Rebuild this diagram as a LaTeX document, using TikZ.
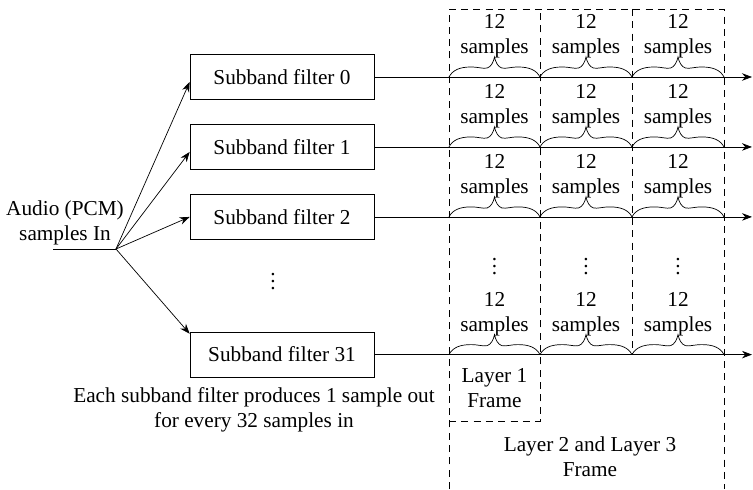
\documentclass[tikz,border=0pt]{standalone}
\usepackage{fontspec}
\setmainfont{Liberation Serif}
\usetikzlibrary{arrows.meta, positioning, calc}

\tikzset{
    samplebrace/.style={to path={
        .. controls ($(\tikztostart)!0.04!(\tikztotarget)+(0,0.14)$) and ($(\tikztostart)!0.12!(\tikztotarget)+(0,0.2)$)
        .. ($(\tikztostart)!0.24!(\tikztotarget)+(0,0.2)$)
        .. controls ($(\tikztostart)!0.33!(\tikztotarget)+(0,0.2)$) and ($(\tikztostart)!0.37!(\tikztotarget)+(0,0.16)$)
        .. ($(\tikztostart)!0.42!(\tikztotarget)+(0,0.18)$)
        .. controls ($(\tikztostart)!0.46!(\tikztotarget)+(0,0.2)$) and ($(\tikztostart)!0.49!(\tikztotarget)+(0,0.3)$)
        .. ($(\tikztostart)!0.5!(\tikztotarget)+(0,0.4)$)
        .. controls ($(\tikztostart)!0.51!(\tikztotarget)+(0,0.3)$) and ($(\tikztostart)!0.54!(\tikztotarget)+(0,0.2)$)
        .. ($(\tikztostart)!0.58!(\tikztotarget)+(0,0.18)$)
        .. controls ($(\tikztostart)!0.63!(\tikztotarget)+(0,0.16)$) and ($(\tikztostart)!0.67!(\tikztotarget)+(0,0.2)$)
        .. ($(\tikztostart)!0.76!(\tikztotarget)+(0,0.2)$)
        .. controls ($(\tikztostart)!0.88!(\tikztotarget)+(0,0.2)$) and ($(\tikztostart)!0.96!(\tikztotarget)+(0,0.14)$)
        .. (\tikztotarget)}}
}

\begin{document}
\begin{tikzpicture}[node distance=0.485cm, font=\fontsize{12.1}{14.2}\selectfont,
    filterbox/.style={draw, rectangle, minimum width=3.68cm, minimum height=0.9cm, inner sep=0pt},
    framed/.style={dash pattern=on 4pt off 3pt},
    >={Stealth[length=2mm, width=1.5mm]}]
    \useasboundingbox (0,0) rectangle (15.06,9.78);

    % Filtros
    \node [filterbox] (f0) at (5.64,8.24) {Subband filter 0};
    \node [filterbox, below=of f0] (f1) {Subband filter 1};
    \node [filterbox, below=of f1] (f2) {Subband filter 2};
    \node [filterbox, below=1.84cm of f2] (f31) {Subband filter 31};
    \node [inner sep=0pt] (dots) at (5.46,4.26) {$\vdots$};
    \node [align=center] (note) at (5.08,1.58) {Each subband filter produces 1 sample out\\for every 32 samples in};

    % Entrada
    \coordinate (start) at (1.06,4.8);
    \coordinate (split) at (2.32,4.8);
    \node [anchor=south, align=center, inner sep=2pt] (audio) at (1.3,4.8) {Audio (PCM)\\samples In};
    \draw (start) -- (split);
    \draw[->] (split) -- ($(f0.west)+(0,-0.1)$);
    \draw[->] (split) -- ($(f1.west)+(0,-0.1)$);
    \draw[->] (split) -- (f2.west);
    \draw[->] (split) -- ($(f31.north west)+(0,-0.04)$);

    % Tramas
    \draw[framed] (8.98,0) -- (8.98,9.6) -- (14.48,9.6) -- (14.48,0);
    \draw[framed] (8.98,1.36) -- (10.8,1.36) -- (10.8,9.6);
    \draw[framed] (12.64,9.6) -- (12.64,0 |- f31.east);
    \node [align=center] (l1) at (9.89,2.02) {Layer 1\\Frame};
    \node [align=center] (l23) at (11.8,0.65) {Layer 2 and Layer 3\\Frame};

    % Salidas
    \coordinate (end) at (15.04,0);
    \foreach \r in {0,1,2,31} {
        \draw[->] (f\r.east) -- (f\r.east -| end);
        \foreach \a/\b/\c in {8.98/10.8/0, 10.8/12.64/1, 12.64/14.48/2} {
            \draw (\a,0 |- f\r.east) to[samplebrace] (\b,0 |- f\r.east);
            \node [align=center, inner sep=1pt] (s\r-\c) at ($({(\a+\b)/2},0 |- f\r.east)+(0,0.81)$) {12\\samples};
        }
    }
    \foreach \x/\c in {9.89/0, 11.72/1, 13.56/2}
        \node [inner sep=0pt] (cdots\c) at (\x,4.55) {$\vdots$};
\end{tikzpicture}
\end{document}
